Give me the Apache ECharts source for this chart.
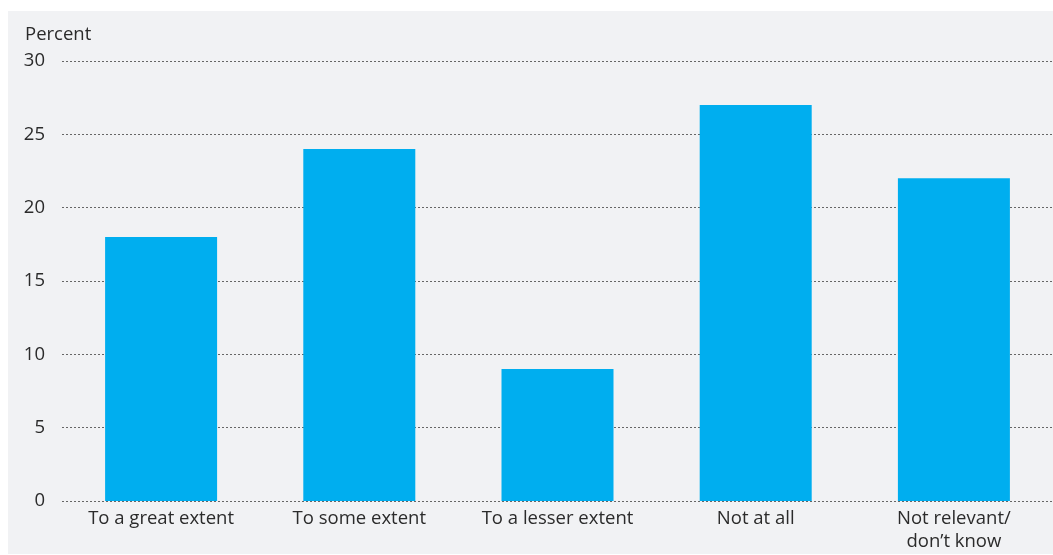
<!DOCTYPE html>
<html>
<head>
<meta charset="utf-8">
<script src="https://cdn.jsdelivr.net/npm/echarts@6/dist/echarts.min.js"></script>
<style>
  html, body { margin: 0; padding: 0; background: #ffffff; }
  #chart { width: 1053px; height: 555px; }
</style>
</head>
<body>
<div id="chart"></div>
<script>
// Survey responses, share of respondents in percent
const categories = ['To a great extent', 'To some extent', 'To a lesser extent', 'Not at all', 'Not relevant/\ndon\u2019t know'];
const values = [18, 24, 9, 27, 22];
const yTicks = { min: 0, max: 30, interval: 5 };

const FONT = '"Open Sans", "Noto Sans", sans-serif';
const chart = echarts.init(document.getElementById('chart'), null, { renderer: 'canvas' });

chart.setOption({
  animation: false,
  backgroundColor: '#ffffff',
  graphic: [
    {
      type: 'rect', z: -10, silent: true,
      shape: { x: 8, y: 11, width: 1045, height: 543 },
      style: { fill: '#f1f2f4' }
    },
    {
      type: 'text', left: 25, top: 25,
      style: { text: 'Percent', fill: '#2b2b2b', font: '18.5px ' + FONT }
    }
  ],
  grid: { left: 62, right: 0, top: 61, bottom: 54 },
  xAxis: {
    type: 'category',
    data: categories,
    axisLine: { show: false },
    axisTick: { show: false },
    axisLabel: {
      color: '#2b2b2b', fontSize: 18.5, fontFamily: FONT,
      margin: 6, lineHeight: 23, interval: 0
    }
  },
  yAxis: {
    type: 'value',
    min: yTicks.min, max: yTicks.max, interval: yTicks.interval,
    axisLine: { show: false },
    axisTick: { show: false },
    axisLabel: { color: '#2b2b2b', fontSize: 18.5, fontFamily: FONT, margin: 17 },
    splitLine: { lineStyle: { color: '#666666', type: [2, 2], width: 1 } }
  },
  series: [{
    type: 'bar',
    data: values,
    barWidth: 112,
    itemStyle: { color: '#00aeef' },
    z: 3
  }]
});
</script>
</body>
</html>
